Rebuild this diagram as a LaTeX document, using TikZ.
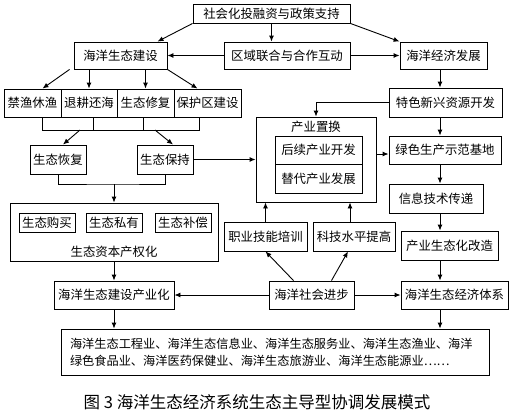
\documentclass[tikz,border=0pt]{standalone}
\usepackage{fontspec}
\setmainfont{Noto Sans CJK SC}
\usetikzlibrary{arrows.meta, positioning, calc}

\begin{document}
\begin{tikzpicture}[x=1pt, y=-1pt,
    box/.style={draw, line width=0.9pt, inner sep=0pt, align=center, font=\fontsize{12.4}{15}\selectfont},
    lbl/.style={inner sep=0pt, font=\fontsize{12.4}{15}\selectfont},
    arr/.style={line width=0.9pt, -{Latex[length=6pt, width=5pt]}},
    link/.style={line width=0.9pt}]
    \useasboundingbox (0,0) rectangle (512,413);

    % Top row
    \node[box, minimum width=157pt, minimum height=19pt] (invest) at (271.5, 13.5) {社会化投融资与政策支持};
    \node[box, minimum width=93pt, minimum height=27pt] (eco) at (120.5, 55.5) {海洋生态建设};
    \node[box, minimum width=126pt, minimum height=27pt] (region) at (287, 55.5) {区域联合与合作互动};
    \node[box, minimum width=87pt, minimum height=27pt] (econ) at (443.5, 55.5) {海洋经济发展};

    % Ecological measures
    \node[box, minimum width=57pt, minimum height=28pt] (jinyu) at (32.5, 103) {禁渔休渔};
    \node[box, minimum width=56pt, minimum height=28pt] (tuigeng) at (89, 103) {退耕还海};
    \node[box, minimum width=57pt, minimum height=28pt] (xiufu) at (145.5, 103) {生态修复};
    \node[box, minimum width=67pt, minimum height=28pt] (baohu) at (207.5, 103) {保护区建设};
    \node[box, minimum width=56pt, minimum height=29pt] (huifu) at (58, 159.5) {生态恢复};
    \node[box, minimum width=56pt, minimum height=29pt] (baochi) at (165, 159.5) {生态保持};

    % Ecological capital
    \node[box, minimum width=208pt, minimum height=58pt] (chanquan) at (114, 232) {};
    \node[box, minimum width=56pt, minimum height=19pt] (goumai) at (47, 222.5) {生态购买};
    \node[box, minimum width=56pt, minimum height=19pt] (siyou) at (114, 222.5) {生态私有};
    \node[box, minimum width=56pt, minimum height=19pt] (buchang) at (183, 222.5) {生态补偿};
    \node[lbl] (chanquanlabel) at (114, 252) {生态资本产权化};

    % Industry replacement
    \node[box, minimum width=120pt, minimum height=85pt] (zhihuan) at (316, 159.5) {};
    \node[lbl] (zhihuanlabel) at (316, 127) {产业置换};
    \node[box, minimum width=87pt, minimum height=28pt] (houxu) at (318.5, 150) {后续产业开发};
    \node[box, minimum width=87pt, minimum height=29pt] (tidai) at (318.5, 178.5) {替代产业发展};
    \node[box, minimum width=83pt, minimum height=29pt] (zhiye) at (265.5, 236.5) {职业技能培训};
    \node[box, minimum width=82pt, minimum height=29pt] (keji) at (354, 236.5) {科技水平提高};

    % Economic chain
    \coordinate (spine) at (440, 0);
    \node[box, minimum width=113pt, minimum height=29pt] (tese) at (445.5, 102.5) {特色新兴资源开发};
    \node[box, minimum width=112pt, minimum height=28pt] (lvse) at (445, 150) {绿色生产示范基地};
    \node[box, minimum width=94pt, minimum height=29pt] (xinxi) at (436, 198.5) {信息技术传递};
    \node[box, minimum width=97pt, minimum height=29pt] (gaizao) at (449.5, 245.5) {产业生态化改造};

    % Bottom row
    \node[box, minimum width=120pt, minimum height=28pt] (chanyehua) at (114, 295) {海洋生态建设产业化};
    \node[box, minimum width=85pt, minimum height=28pt] (shehui) at (311.5, 295) {海洋社会进步};
    \node[box, minimum width=107pt, minimum height=28pt] (tixi) at (454.5, 295) {海洋生态经济体系};
    \node[box, minimum width=428pt, minimum height=46pt, align=left, text width=410pt,
          font=\fontsize{12.2}{17}\selectfont] (list) at (275, 352)
          {海洋生态工程业、海洋生态信息业、海洋生态服务业、海洋生态渔业、海洋\\绿色食品业、海洋医药保健业、海洋生态旅游业、海洋生态能源业……};

    % Caption
    \node[inner sep=0pt, font=\fontsize{16.5}{18}\selectfont] (caption) at (257, 402) {图 3\ 海洋生态经济系统生态主导型协调发展模式};

    % Links from the top
    \draw[arr] (invest.south west) -- ([xshift=-10pt]eco.north east);
    \draw[arr] (invest.south) -- (invest.south |- region.north);
    \draw[arr] (invest.south east) -- (econ.north west);
    \draw[arr] (region.west) -- (eco.east);
    \draw[arr] (region.east) -- (econ.west);

    % Ecological construction
    \draw[arr] ([xshift=-4pt]eco.south west) -- ([xshift=10pt]jinyu.north);
    \draw[arr] (tuigeng.north |- eco.south) -- (tuigeng.north);
    \draw[arr] (xiufu.north |- eco.south) -- (xiufu.north);
    \draw[arr] (eco.south east) -- ([xshift=-10pt]baohu.north);
    \draw[link] ([xshift=10pt]jinyu.south) -- ++(0,13) -| ([xshift=-8pt]baohu.south);
    \draw[link] ([xshift=4pt]tuigeng.south) -- ++(0,13);
    \draw[link] ([xshift=-2pt]xiufu.south) -- ++(0,13);
    \coordinate (splitA) at (80, 130);
    \coordinate (splitB) at (155, 130);
    \draw[arr] (splitA) -- ([xshift=5pt]huifu.north);
    \draw[arr] (splitB) -- ([xshift=8pt]baochi.north);
    \coordinate (merge) at (114, 184);
    \draw[link] (huifu.south) |- (merge) -| (baochi.south);
    \draw[arr] (merge) -- (chanquan.north);
    \draw[arr] (baochi.east) -- (baochi.east -| zhihuan.west);
    \draw[arr] (chanquan.south) -- (chanyehua.north);

    % Economic development
    \draw[arr] (econ.south -| spine) -- (tese.north -| spine);
    \draw[arr] (tese.west) -| (zhihuan.north);
    \draw[arr] (tese.south -| spine) -- (lvse.north -| spine);
    \draw[arr] (zhihuan.east |- 0,154) -- (lvse.west |- 0,154);
    \draw[arr] (lvse.south -| spine) -- (xinxi.north -| spine);
    \draw[arr] (xinxi.south -| spine) -- (gaizao.north -| spine);
    \draw[arr] (gaizao.south -| spine) -- (tixi.north -| spine);

    % Social progress
    \draw[arr] (zhiye.north) -- (zhiye.north |- zhihuan.south);
    \draw[arr] ([xshift=-4pt]keji.north) -- ([xshift=-4pt]keji.north |- zhihuan.south);
    \draw[arr] ([xshift=-18pt]shehui.north) -- (zhiye.south);
    \draw[arr] ([xshift=20pt]shehui.north) -- ([xshift=-6pt]keji.south);
    \draw[arr] (shehui.west) -- (chanyehua.east);
    \draw[arr] (shehui.east) -- (tixi.west);
    \draw[arr] (chanyehua.south) -- (chanyehua.south |- list.north);
    \draw[arr] (tixi.south -| spine) -- (list.north -| spine);
\end{tikzpicture}
\end{document}
